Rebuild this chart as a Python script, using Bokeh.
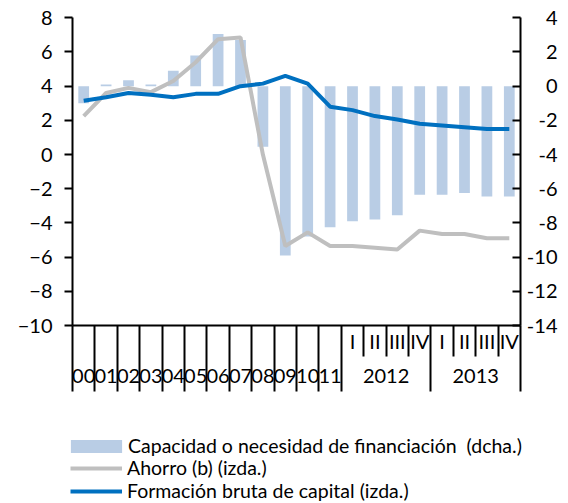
from bokeh.plotting import figure
from bokeh.models import (Range1d, LinearAxis, FixedTicker, ColumnDataSource, LabelSet,
                          Legend, LegendItem, CustomJSTickFormatter)
from bokeh.core.properties import value
from bokeh.embed import file_html
from bokeh.resources import INLINE

# ---------------- data ----------------
categories = ["00", "01", "02", "03", "04", "05", "06", "07", "08", "09", "10", "11",
              "2012 I", "2012 II", "2012 III", "2012 IV",
              "2013 I", "2013 II", "2013 III", "2013 IV"]
year_labels = ["00", "01", "02", "03", "04", "05", "06", "07", "08", "09", "10", "11"]
quarter_labels = ["I", "II", "III", "IV", "I", "II", "III", "IV"]
period_labels = ["2012", "2013"]

capacidad = [-1.0, 0.1, 0.35, 0.1, 0.9, 1.8, 3.05, 2.7, -3.55, -9.9, -8.8, -8.25,
             -7.9, -7.8, -7.55, -6.35, -6.35, -6.25, -6.45, -6.45]
ahorro = [2.25, 3.6, 3.9, 3.65, 4.3, 5.4, 6.75, 6.85, 0.0, -5.35, -4.55, -5.35,
          -5.35, -5.45, -5.55, -4.45, -4.65, -4.65, -4.9, -4.9]
fbc = [3.15, 3.35, 3.6, 3.5, 3.35, 3.55, 3.55, 4.0, 4.15, 4.6, 4.15, 2.8,
       2.6, 2.25, 2.05, 1.8, 1.7, 1.6, 1.5, 1.5]

left_ticks = [-10, -8, -6, -4, -2, 0, 2, 4, 6, 8]
right_ticks = [-14, -12, -10, -8, -6, -4, -2, 0, 2, 4]
right_tick_labels = ["-14", "-12", "-10", "-8", "-6", "-4", "-2", "0", "2", "4"]

name_bar = "Capacidad o necesidad de financiación  (dcha.)"
name_ahorro = "Ahorro (b) (izda.)"
name_fbc = "Formación bruta de capital (izda.)"

# ---------------- layout (pixels) ----------------
FONT = "Lato"
W, H = 568, 503
PL, PR = 72.0, 520.0        # plot area left/right
PT, PB = 17.3, 325.0        # plot area top/bottom
n = len(categories)
px_x = (PR - PL) / n
px_y = (PB - PT) / 18.0

x_lo = -PL / px_x
x_hi = n + (W - PR) / px_x
y_hi = 8 + PT / px_y
y_lo = -10 - (H - PB) / px_y

def ypix(py):
    """page pixel row -> left-axis data value"""
    return -10 - (py - PB) / px_y

xc = [i + 0.5 for i in range(n)]

p = figure(width=W, height=H, x_range=Range1d(x_lo, x_hi), y_range=Range1d(y_lo, y_hi),
           x_axis_type=None, y_axis_type=None,
           output_backend="svg", toolbar_location=None,
           min_border_left=0, min_border_right=0, min_border_top=0, min_border_bottom=0)
p.extra_y_ranges = {"right": Range1d(y_lo - 4, y_hi - 4)}
p.outline_line_color = None
p.background_fill_color = "white"
p.border_fill_color = "white"

src = ColumnDataSource(dict(x=xc, cap=capacidad, ah=ahorro, fb=fbc))

bars = p.vbar(x="x", top="cap", bottom=0, width=0.48, source=src, y_range_name="right",
              fill_color="#B9CDE5", line_color=None)
l_ah = p.line(x="x", y="ah", source=src, line_color="#BFBFBF", line_width=4)
l_fb = p.line(x="x", y="fb", source=src, line_color="#0070C0", line_width=4)

empty = CustomJSTickFormatter(code="return ''")

# left axis
ax_l = LinearAxis(ticker=FixedTicker(ticks=left_ticks), fixed_location=0, bounds=(-10, 8),
                  major_tick_out=8, major_tick_in=0, minor_tick_out=0, minor_tick_in=0,
                  axis_line_width=2, major_tick_line_width=2,
                  major_label_text_font=FONT, major_label_text_font_size="20px",
                  major_label_text_color="black", major_label_standoff=12)
p.add_layout(ax_l, "left")

# right axis
ax_r = LinearAxis(y_range_name="right", ticker=FixedTicker(ticks=right_ticks),
                  fixed_location=n, bounds=(-14, 4),
                  major_tick_out=0, major_tick_in=8, minor_tick_out=0, minor_tick_in=0,
                  axis_line_width=2, major_tick_line_width=2, formatter=empty,
                  major_label_standoff=0)
p.add_layout(ax_r, "right")

# bottom axis with category separators
major_sep = list(range(0, 13)) + [16, 20]
minor_sep = [13, 14, 15, 17, 18, 19]
ax_b = LinearAxis(ticker=FixedTicker(ticks=major_sep, minor_ticks=minor_sep),
                  fixed_location=-10, bounds=(0, n),
                  major_tick_out=66, major_tick_in=0, minor_tick_out=31, minor_tick_in=0,
                  axis_line_width=2, major_tick_line_width=2, minor_tick_line_width=2,
                  formatter=empty, major_label_standoff=0)
p.add_layout(ax_b, "below")

# right tick labels (right aligned)
x_right_lab = n + 37 / px_x
rsrc = ColumnDataSource(dict(x=[x_right_lab] * len(right_ticks), y=right_ticks, t=right_tick_labels))
p.add_layout(LabelSet(x="x", y="y", text="t", source=rsrc, y_range_name="right",
                      text_align="right", text_baseline="middle",
                      text_font=value(FONT), text_font_size=value("20px"), text_color="black"))

# category labels below the axis
y_year = ypix(375)
y_quarter = ypix(340)
lab_x = [i + 0.5 for i in range(len(year_labels))] + [14, 18]
lab_t = year_labels + period_labels
ysrc = ColumnDataSource(dict(x=lab_x, y=[y_year] * len(lab_x), t=lab_t))
p.add_layout(LabelSet(x="x", y="y", text="t", source=ysrc, text_align="center",
                      text_baseline="middle", text_font=value(FONT),
                      text_font_size=value("20px"), text_color="black"))
qx = [12.5 + i for i in range(len(quarter_labels))]
qsrc = ColumnDataSource(dict(x=qx, y=[y_quarter] * len(qx), t=quarter_labels))
p.add_layout(LabelSet(x="x", y="y", text="t", source=qsrc, text_align="center",
                      text_baseline="middle", text_font=value(FONT),
                      text_font_size=value("20px"), text_color="black"))

# legends
leg1 = Legend(items=[LegendItem(label=name_bar, renderers=[bars])],
              location=(64, H - 457),
              glyph_width=64, glyph_height=16, label_height=23, label_standoff=0,
              padding=0, margin=0, spacing=0, border_line_color=None,
              background_fill_alpha=0, label_text_font=FONT, label_text_font_size="19.5px",
              label_text_color="black")
leg2 = Legend(items=[LegendItem(label=name_ahorro, renderers=[l_ah]),
                     LegendItem(label=name_fbc, renderers=[l_fb])],
              location=(70, H - 502),
              glyph_width=52, glyph_height=16, label_height=23, label_standoff=5,
              padding=0, margin=0, spacing=0, border_line_color=None,
              background_fill_alpha=0, label_text_font=FONT, label_text_font_size="19.5px",
              label_text_color="black")
p.add_layout(leg1)
p.add_layout(leg2)

open("out.html", "w").write(file_html(p, INLINE))
